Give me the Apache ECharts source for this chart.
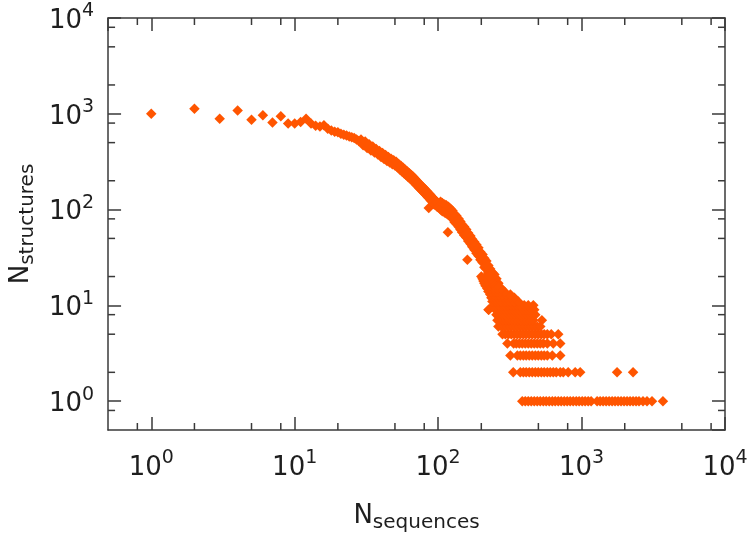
<!DOCTYPE html>
<html><head><meta charset="utf-8">
<script src="https://cdn.jsdelivr.net/npm/echarts@6/dist/echarts.min.js"></script>
<style>html,body{margin:0;padding:0;background:#fff}#c{width:751px;height:540px}</style>
</head><body><div id="c"></div>
<script>
// ---- data (N sequences, N structures) ----
const headSeq    = [1,2,3,4,5,6,7,8,9,10,11,12,13,14,15,16,17,18,19,20,21,22,23,24,25,26,27,28];
const headStruct = [1000,1130,890,1085,865,965,810,940,790,790,820,890,790,750,735,760,700,670,650,640,620,605,595,580,570,560,540,520];

const midSeq    = [29,30,31,32,33,34,35,36,37,38,39,40,41,42,43,44,45,46,47,48,49,50,51,52,53,54,55,56,57,58,59,60,61,62,63,64,65,66,67,68,69,70,71,72,73,74,75,76,77,78,79,80,81,82,83,84,85,86,86,87,88,89,90,91,92,93,94,95,96,97,98,99,100];
const midStruct = [540,470,515,440,480,415,455,395,430,375,410,355,390,338,372,322,355,310,340,298,328,288,315,277,300,262,287,250,273,238,260,228,250,218,240,210,230,200,220,192,210,183,200,175,192,167,183,161,176,154,170,148,163,143,157,137,151,132,104,145,127,140,122,135,118,129,113,125,112,122,108,119,106];

const bandSeq    = [104,104,107,107,107,111,111,114,114,114,117,118,118,122,122,122,126,126,130,130,130,134,134,139,139,139,143,143,147,147,147,152,152,157,157,157,160,162,162,168,168,168,173,173,179,179,179,185,185,191,191,191,197,197,204,204,204,210,210,217,217,217,224,224,225,231,231,231,239,239,247,247,247,255,255,263,263,263,272,272,281,281,290,290,299,299];
const bandStruct = [121,100,117,96,106,113,93,111,91,101,58,107,88,102,84,93,97,80,90,74,82,86,71,80,66,73,75,62,70,58,64,66,54,62,51,56,30,57,47,53,44,48,49,41,46,38,42,43,35,40,33,36,36,30,34,28,31,31,25,29,24,26,26,22,9,24,20,22,22,18,21,17,19,19,15,17,14,16,15,13,14,12,13,11,12,10];

// tail: N structures level and the N sequences found at that level
const tailLevels = [1,2,3,4,5,6,7,8,9,10,11,12,13,14,15,16,17,18,19,20];
const tailSeqs = [
  [386,405,425,446,468,491,515,541,567,595,625,655,688,721,757,794,833,874,918,962,1010,1059,1112,1166,1284,1347,1413,1483,1556,1633,1713,1797,1886,1978,2076,2178,2285,2398,2515,2682,2859,3097,3694],
  [334,374,393,411,432,453,476,499,524,549,577,605,635,666,710,745,807,903,978,1768,2285],
  [319,357,374,393,411,432,453,476,499,524,549,577,625,710],
  [304,336,351,368,386,405,425,446,468,491,515,541,577,635,710],
  [281,294,309,324,340,357,374,393,411,432,453,476,499,524,549,577,615,688],
  [263,276,290,304,319,336,351,368,386,405,425,446,468,491,515],
  [259,272,285,299,314,329,345,362,380,398,418,439,461,529],
  [255,267,281,294,309,324,340,357,374,393,411,432,453,476],
  [225,251,263,276,290,304,319,336,351,368,386,405,425,446,468],
  [243,255,267,281,294,309,324,340,357,374,398,425,461],
  [239,251,263,276,290,304,319,340,362],
  [235,247,259,272,285,299,319,340],
  [231,243,255,267,281,299,319],
  [224,235,247,259,272,290],
  [220,231,243,259,276],
  [214,227,243,259],
  [210,224,239],
  [207,220,235],
  [204,217,231],
  [200,214,227]
];

const minorTicks = [0.8,2,5,8,20,50,80,200,500,800,2000,5000,8000];

// ---- build ----
const points = [];
headSeq.forEach((x,i)=>points.push([x, headStruct[i]]));
midSeq.forEach((x,i)=>points.push([x, midStruct[i]]));
bandSeq.forEach((x,i)=>points.push([x, bandStruct[i]]));
tailLevels.forEach((lv,i)=>tailSeqs[i].forEach(x=>points.push([x, lv])));

const FONT = 'DejaVu Sans';
const AX = '#3a3a3a';
const TXT = '#1e1e1e';
function supLabel(v){
  const l = Math.log10(v), e = Math.round(l);
  if (Math.abs(l - e) > 1e-6) return '';
  return '{b|10}{s|' + e + '}';
}
const labelRich = {
  b:{fontSize:26, fontFamily:FONT, color:TXT, lineHeight:32, verticalAlign:'bottom'},
  s:{fontSize:19, fontFamily:FONT, color:TXT, lineHeight:20, verticalAlign:'top'}
};
const nameRich = {
  n:{fontSize:26, fontFamily:FONT, color:TXT, lineHeight:30, verticalAlign:'top'},
  sub:{fontSize:20, fontFamily:FONT, color:TXT, lineHeight:20, verticalAlign:'bottom'}
};
function logAxis(extra){
  return Object.assign({
    type:'log', logBase:10, min:0.5, max:10000, gridIndex:0,
    axisLine:{show:true, lineStyle:{color:AX, width:1.5}},
    axisTick:{show:true, inside:true, length:13, lineStyle:{color:AX, width:1.5}},
    splitLine:{show:false}, minorTick:{show:false}, minorSplitLine:{show:false}
  }, extra);
}

const chart = echarts.init(document.getElementById('c'), null, {renderer:'canvas'});
chart.setOption({
  animation:false,
  backgroundColor:'#ffffff',
  grid:{left:107, right:26, top:18, bottom:110, containLabel:false},
  xAxis:[
    logAxis({position:'bottom',
      axisLabel:{formatter:supLabel, rich:labelRich, margin:19, showMinLabel:false},
      name:'{n|N}{sub|sequences}', nameLocation:'middle', nameGap:73,
      nameTextStyle:{rich:nameRich}}),
    logAxis({position:'top', axisLabel:{show:false}})
  ],
  yAxis:[
    logAxis({position:'left',
      axisLabel:{formatter:supLabel, rich:labelRich, margin:14, showMinLabel:false},
      name:'{n|N}{sub|structures}', nameLocation:'middle', nameGap:60,
      nameTextStyle:{rich:nameRich}}),
    logAxis({position:'right', axisLabel:{show:false}})
  ],
  series:[{
    type:'scatter', xAxisIndex:0, yAxisIndex:0,
    symbol:'diamond', symbolSize:10.5,
    itemStyle:{color:'#ff5500', opacity:1},
    data:points
  }]
});

// minor ticks (2, 5, 8 per decade) drawn on all four sides via the chart's own scales
const [xl, yb] = chart.convertToPixel({seriesIndex:0}, [0.5, 0.5]);
const [xr, yt] = chart.convertToPixel({seriesIndex:0}, [10000, 10000]);
const g = [];
function seg(a,b,c,d){ g.push({type:'line', silent:true, shape:{x1:a,y1:b,x2:c,y2:d}, style:{stroke:AX, lineWidth:1.5}}); }
minorTicks.forEach(v=>{
  const [px, py] = chart.convertToPixel({seriesIndex:0}, [v, v]);
  seg(px, yb, px, yb-7); seg(px, yt, px, yt+7);
  seg(xl, py, xl+7, py); seg(xr, py, xr-7, py);
});
chart.setOption({graphic:g});
</script>
</body></html>
